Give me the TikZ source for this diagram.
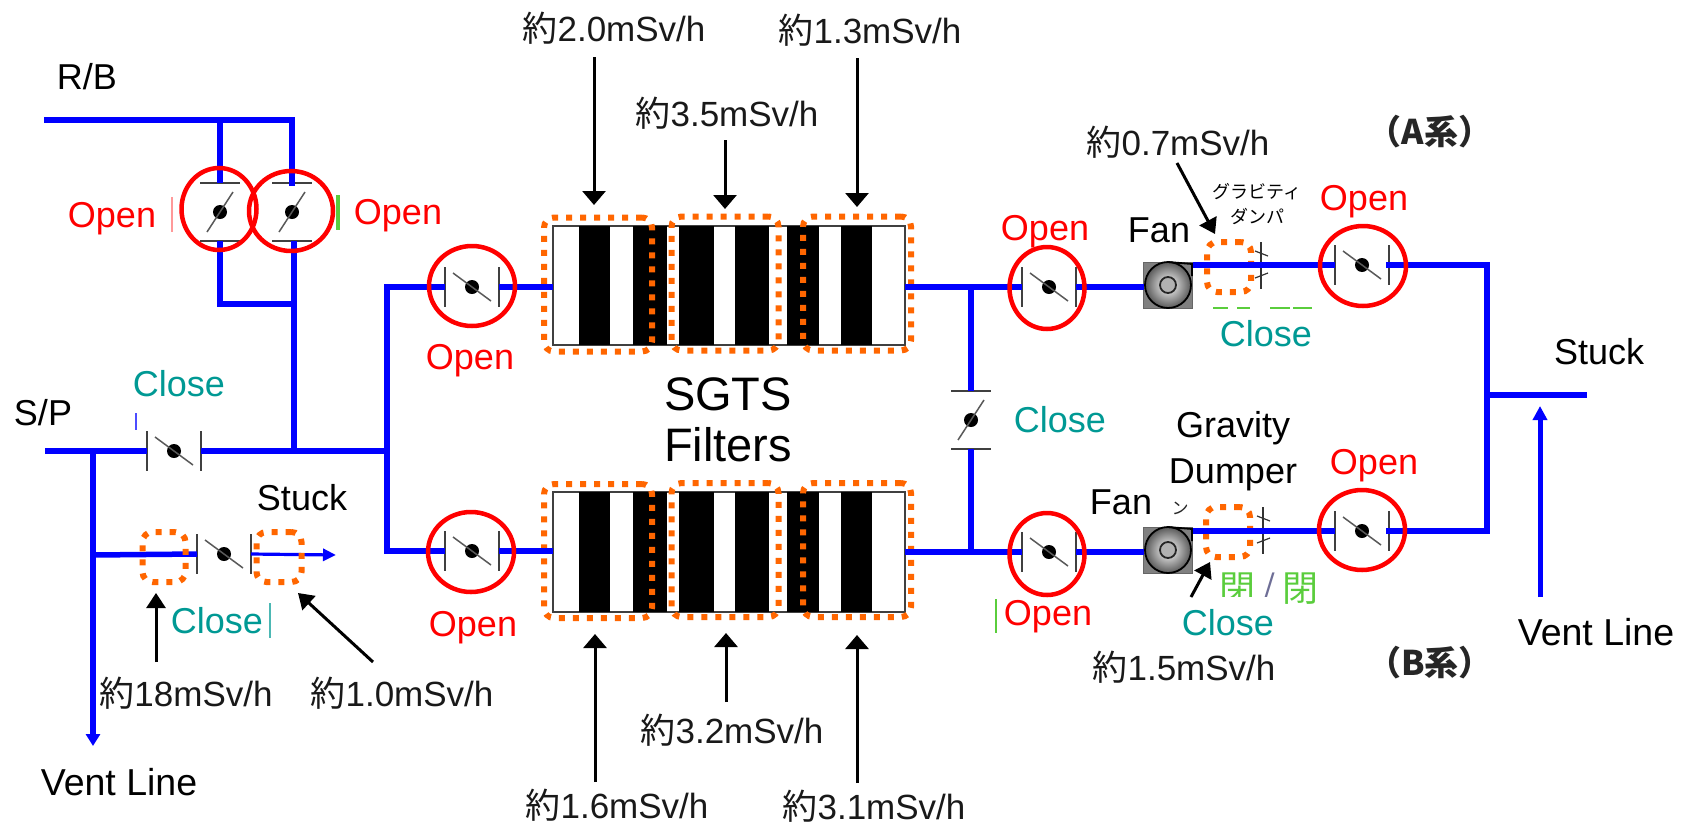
\documentclass[tikz,border=0pt]{standalone}
\usepackage{fontspec}
\setmainfont{Liberation Sans}
\newfontfamily\cjkfont{Noto Sans CJK JP}
\usetikzlibrary{arrows.meta}
\usetikzlibrary{shapes.geometric}
\definecolor{pipeblue}{RGB}{0,0,255}
\definecolor{holdorange}{RGB}{255,102,0}
\definecolor{closeteal}{RGB}{0,153,148}
\definecolor{openred}{RGB}{255,0,0}
\definecolor{shutgreen}{RGB}{90,205,60}
\definecolor{slashgrey}{RGB}{110,110,150}
\newcommand{\yk}{{\cjkfont 約}}
\tikzset{
    pipe/.style={pipeblue, line width=5.5pt},
    thinpipe/.style={pipeblue, line width=3.2pt},
    pointer/.style={black, line width=3pt, -{Triangle[length=14pt,width=23pt]}},
    smallpointer/.style={black, line width=3pt, -{Triangle[length=15pt,width=19pt]}},
    valvebar/.style={black!75, line width=1.6pt},
    valveflap/.style={black!65, line width=1.5pt},
    valvedot/.style={circle, fill=black, minimum size=14pt, inner sep=0pt, outer sep=0pt},
    ringopen/.style={ellipse, draw=openred, line width=4.5pt, inner sep=0pt, outer sep=0pt, minimum width=84pt, minimum height=80pt},
    holdbox/.style={draw=holdorange, line width=6pt, dash pattern=on 6pt off 8pt, rounded corners=10pt, inner sep=0pt, outer sep=0pt},
    filterbox/.style={draw=black!75, fill=white, line width=1.6pt, inner sep=0pt, outer sep=0pt, minimum width=352pt},
    txt/.style={inner sep=0pt, outer sep=0pt, align=center, font=\fontsize{36}{52}\selectfont},
    opentxt/.style={txt, text=openred},
    closetxt/.style={txt, text=closeteal},
    dosetxt/.style={inner sep=0pt, outer sep=0pt, text=black!90, font=\fontsize{35}{40}\selectfont},
    stray/.style={line width=1.5pt}
}
% valve across a horizontal run: ends are (name w) and (name e)
\newcommand{\hvalve}[3]{%
    \node[valvedot] (#1) at (#2,#3) {};
    \coordinate (#1w) at (#2-27,#3);
    \coordinate (#1e) at (#2+27,#3);
    \draw[valvebar] (#2-27,#3-20) -- (#2-27,#3+20);
    \draw[valvebar] (#2+27,#3-20) -- (#2+27,#3+20);
    \draw[valveflap] (#2-19,#3-14) -- (#2+19,#3+14);
}
% valve across a vertical run: ends are (name n) and (name s)
\newcommand{\vvalve}[3]{%
    \node[valvedot] (#1) at (#2,#3) {};
    \coordinate (#1n) at (#2,#3-29);
    \coordinate (#1s) at (#2,#3+29);
    \draw[valvebar] (#2-20,#3-29) -- (#2+20,#3-29);
    \draw[valvebar] (#2-20,#3+29) -- (#2+20,#3+29);
    \draw[valveflap] (#2-13,#3+20) -- (#2+13,#3-20);
}
% filter train with its bands and three marked sections
\newcommand{\filterset}[4]{%
    \node[filterbox, minimum height=#3-#2] (#1) at (729,{(#2+#3)/2}) {};
    \foreach \bandl/\bandr in {579/610,633/667,679/714,735/769,787/819,841/872}
        \fill[black] (\bandl,#2) rectangle (\bandr,#3);
    \node[holdbox, minimum width=108pt, minimum height=#4] (#1a) at (598,{(#2+#3)/2-1}) {};
    \node[holdbox, minimum width=107pt, minimum height=#4] (#1b) at (725,{(#2+#3)/2-2}) {};
    \node[holdbox, minimum width=108pt, minimum height=#4] (#1c) at (857,{(#2+#3)/2-2}) {};
}
\newcommand{\fanunit}[3]{%
    \node[draw=black!60, fill=black!50, line width=1pt, minimum width=49pt, minimum height=46pt, inner sep=0pt, outer sep=0pt] (#1) at (#2,#3) {};
    \shade[inner color=white, outer color=black!65] (#2,#3) circle (23);
    \draw[black, line width=1.8pt] (#2,#3) circle (23);
    \draw[black, line width=1.8pt] (#2,#3-23) -- (#2+24,#3-21) -- (#2+24,#3-9);
    \draw[black!85, line width=1.8pt, fill=white!70!black] (#2,#3) circle (8);
}
\newcommand{\damper}[4]{%
    \node[holdbox, minimum width=44pt, minimum height=50pt] (#1) at (#2,#3) {};
    \draw[black!80, line width=1.4pt] (#4,#3-25) -- (#4,#3+22);
    \draw[black!80, line width=1.2pt] (#4-6,#3-16) -- (#4+7,#3-11);
    \draw[black!80, line width=1.2pt] (#4-6,#3+11) -- (#4+7,#3+6);
}
\begin{document}
\begin{tikzpicture}[x=1pt,y=-1pt]
        \useasboundingbox[fill=white] (0,0) rectangle (1683,825);
        % junctions of the runs
        \coordinate (rbend) at (47,120);
        \coordinate (rbjoin) at (220,120);
        \coordinate (rbcorner) at (292,120);
        \coordinate (rbloop) at (220,304);
        \coordinate (rbtie) at (294,304);
        \coordinate (spend) at (45,451);
        \coordinate (sptee) at (93,451);
        \coordinate (spjoin) at (294,451);
        \coordinate (spmain) at (387,451);
        \coordinate (maintop) at (387,287);
        \coordinate (mainbot) at (387,551);
        \coordinate (drainend) at (93,746);
        \coordinate (draintee) at (93,555);
        \coordinate (stuckend) at (336,555);
        \coordinate (xtop) at (971,287);
        \coordinate (xbot) at (971,552);
        \coordinate (outtop) at (1487,265);
        \coordinate (outbot) at (1487,531);
        \coordinate (outtee) at (1487,395);
        \coordinate (outend) at (1587,395);
        \coordinate (ventfoot) at (1540,597);
        \coordinate (venttip) at (1540,406);
        % valves
        \hvalve{vspl}{174}{451}
        \hvalve{vdrain}{224}{554}
        \hvalve{vintop}{472}{287}
        \hvalve{vinbot}{472}{551}
        \hvalve{vfantop}{1049}{287}
        \hvalve{vfanbot}{1049}{552}
        \hvalve{voutop}{1362}{265}
        \hvalve{voutbot}{1362}{531}
        \vvalve{vrbl}{220}{212}
        \vvalve{vrbr}{292}{212}
        \vvalve{vcross}{971}{420}
        % filters
        \filterset{ftop}{226}{345}{134pt}
        \filterset{fbot}{492}{612}{134pt}
        % fans and dampers
        \fanunit{fantop}{1168}{285}
        \fanunit{fanbot}{1168}{550}
        \damper{dmptop}{1229}{267}{1261}
        \damper{dmpbot}{1228}{532}{1263}
        % runs
        \draw[pipe, line cap=rect] (rbend) -- (rbcorner) -- (vrbrn);
        \draw[pipe] (rbjoin) -- (vrbln);
        \draw[pipe] (vrbls) -- (rbloop) -- (rbtie);
        \draw[pipe] (vrbrs -| spjoin) -- (spjoin);
        \draw[pipe] (spend) -- (vsplw);
        \draw[pipe] (vsple) -- (spmain);
        \draw[pipe, line cap=rect] (maintop) -- (mainbot);
        \draw[pipe] (maintop) -- (vintopw);
        \draw[pipe] (mainbot) -- (vinbotw);
        \draw[pipe] (vintope) -- (ftop.west |- vintope);
        \draw[pipe] (vinbote) -- (fbot.west |- vinbote);
        \draw[pipe] (ftop.east |- vfantopw) -- (vfantopw);
        \draw[pipe] (fbot.east |- vfanbotw) -- (vfanbotw);
        \draw[pipe] (vfantope) -- (fantop.west |- vfantope);
        \draw[pipe] (vfanbote) -- (fanbot.west |- vfanbote);
        \draw[pipe] (xtop) -- (vcrossn);
        \draw[pipe] (vcrosss) -- (xbot);
        \draw[pipe] (fantop.east |- outtop) -- (voutopw);
        \draw[pipe] (fanbot.east |- outbot) -- (voutbotw);
        \draw[pipe, line cap=rect] (voutope) -- (outtop) -- (outbot) -- (voutbote);
        \draw[pipe] (outtee) -- (outend);
        \draw[pipe, -{Triangle[length=12pt,width=14pt]}] (sptee) -- (drainend);
        \draw[pipe] (draintee) -- (vdrainw);
        \draw[thinpipe, -{Triangle[length=13pt,width=12pt]}] (vdraine) -- (stuckend);
        \draw[thinpipe, line width=5pt, -{Triangle[length=14pt,width=14pt]}] (ventfoot) -- (venttip);
        % held-up spots on the drain branch
        \node[holdbox, minimum width=43pt, minimum height=50pt] (holdl) at (164,557) {};
        \node[holdbox, minimum width=45pt, minimum height=50pt] (holdr) at (279,557) {};
        % rings on the open valves
        \node[ringopen, minimum width=75pt, minimum height=82pt] (ringrbl) at (219,209) {};
        \node[ringopen] (ringrbr) at (291,211) {};
        \node[ringopen, minimum width=86pt] (ringintop) at (472,286) {};
        \node[ringopen, minimum width=86pt] (ringinbot) at (471,552) {};
        \node[ringopen, minimum width=75pt, minimum height=82pt] (ringfantop) at (1047,288) {};
        \node[ringopen, minimum width=75pt, minimum height=82pt] (ringfanbot) at (1047,554) {};
        \node[ringopen, minimum width=86pt] (ringoutop) at (1363,266) {};
        \node[ringopen, minimum width=86pt] (ringoutbot) at (1362,530) {};
        % left over marks
        \draw[stray, red!40] (172,197) -- (172,232);
        \draw[stray, shutgreen, line width=4pt] (338,195) -- (338,230);
        \draw[stray, pipeblue!70] (136,413) -- (136,430);
        \draw[stray, closeteal!70] (270,603) -- (270,638);
        \draw[stray, shutgreen] (996,599) -- (996,633);
        \draw[stray, shutgreen] (1213,308) -- (1228,308);
        \draw[stray, shutgreen] (1237,308) -- (1250,308);
        \draw[stray, shutgreen] (1270,308) -- (1290,308);
        \draw[stray, shutgreen] (1293,308) -- (1312,308);
        % black labels
        \node[txt] (rblab) at (87,77) {R/B};
        \node[txt] (splab) at (43,413) {S/P};
        \node[txt] (stucklab) at (302,498) {Stuck};
        \node[txt, font=\fontsize{37.5}{52}\selectfont] (ventlab) at (119,782) {Vent Line};
        \node[txt] (stuckrlab) at (1599,352) {Stuck};
        \node[txt, font=\fontsize{37.5}{52}\selectfont] (ventrlab) at (1596,632) {Vent Line};
        \node[txt, font=\fontsize{47}{51}\selectfont] (sgtslab) at (728,420) {SGTS\\Filters};
        \node[txt] (fantoplab) at (1159,230) {Fan};
        \node[txt] (fanbotlab) at (1121,502) {Fan};
        \node[txt, font=\fontsize{36}{46}\selectfont] (gravlab) at (1233,451) {Gravity\\Dumper};
        \node[txt, font=\cjkfont\fontsize{18}{25}\selectfont] (gravjp) at (1257,204) {グラビティ\\ダンパ};
        \node[txt, font=\cjkfont\fontsize{17}{20}\selectfont, text=black!85] (gravcut) at (1180,508) {ン};
        \node[txt, font=\cjkfont\bfseries\fontsize{34}{36}\selectfont, text=black!85] (sysa) at (1430,132) {（A系）};
        \node[txt, font=\cjkfont\bfseries\fontsize{34}{36}\selectfont, text=black!85] (sysb) at (1430,663) {（B系）};
        % state labels
        \node[opentxt] (olrbl) at (112,219) {Open};
        \node[opentxt] (olrbr) at (398,216) {Open};
        \node[opentxt] (olintop) at (470,361) {Open};
        \node[opentxt] (olinbot) at (473,628) {Open};
        \node[opentxt] (olfantop) at (1045,232) {Open};
        \node[opentxt] (olfanbot) at (1048,617) {Open};
        \node[opentxt] (oloutop) at (1364,202) {Open};
        \node[opentxt] (oloutbot) at (1374,466) {Open};
        \node[closetxt] (clsp) at (179,384) {Close};
        \node[closetxt] (cldrain) at (217,621) {Close};
        \node[closetxt] (clcross) at (1060,420) {Close};
        \node[closetxt] (cltop) at (1266,334) {Close};
        % shut marks partly hidden below
        \node[txt, text=shutgreen, font=\cjkfont\fontsize{36}{40}\selectfont] (shutb) at (1269,590) {閉\,{\color{slashgrey}/}\,閉};
        \fill[white] (1172,597) rectangle (1282,645);
        \node[closetxt] (clbot) at (1228,623) {Close};
        % dose labels and pointers
        \node[dosetxt] (dosea) at (614,28) {\yk 2.0mSv/h};
        \node[dosetxt] (doseb) at (727,113) {\yk 3.5mSv/h};
        \node[dosetxt] (dosec) at (870,30) {\yk 1.3mSv/h};
        \node[dosetxt] (dosed) at (617,805) {\yk 1.6mSv/h};
        \node[dosetxt] (dosee) at (732,730) {\yk 3.2mSv/h};
        \node[dosetxt] (dosef) at (874,806) {\yk 3.1mSv/h};
        \node[dosetxt] (doseg) at (186,693) {\yk 18mSv/h};
        \node[dosetxt] (doseh) at (402,693) {\yk 1.0mSv/h};
        \node[dosetxt] (dosei) at (1178,142) {\yk 0.7mSv/h};
        \node[dosetxt] (dosej) at (1184,667) {\yk 1.5mSv/h};
        \coordinate (tipa) at (594,205);
        \coordinate (tipb) at (725,209);
        \coordinate (tipc) at (857,207);
        \coordinate (tipd) at (595,634);
        \coordinate (tipe) at (726,633);
        \coordinate (tipf) at (857,635);
        \draw[pointer] (594,57) -- (tipa);
        \draw[pointer] (725,140) -- (tipb);
        \draw[pointer] (857,58) -- (tipc);
        \draw[pointer] (595,782) -- (tipd);
        \draw[pointer] (726,702) -- (tipe);
        \draw[pointer] (857,783) -- (tipf);
        \draw[smallpointer] (156,662) -- (156,593);
        \draw[smallpointer] (373,662) -- (298,593);
        \draw[smallpointer] (1177,163) -- (1215,234);
        \draw[smallpointer] (1191,597) -- (1210,562);
    \end{tikzpicture}
\end{document}
